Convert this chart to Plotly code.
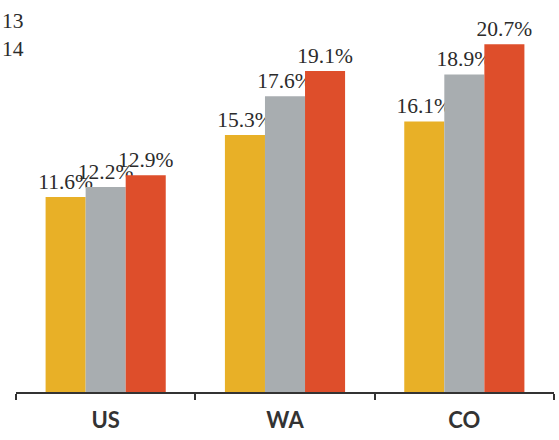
import plotly.graph_objects as go

categories = ["US", "WA", "CO"]
series_names = ["2012", "2013", "2014"]
values_2012 = [11.6, 15.3, 16.1]
values_2013 = [12.2, 17.6, 18.9]
values_2014 = [12.9, 19.1, 20.7]
legend_fragments = ["13", "14"]

colors = ["#E8B027", "#A8ADB0", "#DE4E2B"]
series = [values_2012, values_2013, values_2014]

fig = go.Figure()
for name, vals, col in zip(series_names, series, colors):
    fig.add_trace(go.Bar(
        x=categories, y=vals, name=name,
        marker=dict(color=col, line=dict(width=0)),
        text=[f"{v:.1f}%" for v in vals],
        textposition="outside",
        constraintext="none",
        cliponaxis=False,
        textfont=dict(family="Liberation Serif", size=21.5, color="#2b2b2b"),
    ))

W, H = 559, 440
ml, mr, mt, mb = 16, 5, 0, 48
pw = W - ml - mr

for i, t in enumerate(legend_fragments):
    fig.add_annotation(
        xref="paper", yref="paper",
        x=-ml / pw, y=1 - (21 + 28 * i) / (H - mt - mb),
        xanchor="left", yanchor="middle",
        text=t, showarrow=False,
        font=dict(family="Liberation Serif", size=21.5, color="#2b2b2b"),
    )

fig.update_layout(
    width=W, height=H,
    margin=dict(l=ml, r=mr, t=mt, b=mb),
    paper_bgcolor="white", plot_bgcolor="white",
    barmode="group", bargap=0.33, bargroupgap=0,
    showlegend=False,
    xaxis=dict(
        showline=True, linecolor="#333333", linewidth=2,
        ticks="outside", ticklen=6, tickwidth=2, tickcolor="#333333",
        tickson="boundaries",
        tickfont=dict(family="Lato", size=22, color="#333333", weight="bold"),
        ticklabelstandoff=8,
        showgrid=False,
    ),
    yaxis=dict(range=[0, 23.33], visible=False, showgrid=False),
)

fig.write_html("out.html", config={"displayModeBar": False},
               post_script="document.body.style.margin='0';")
